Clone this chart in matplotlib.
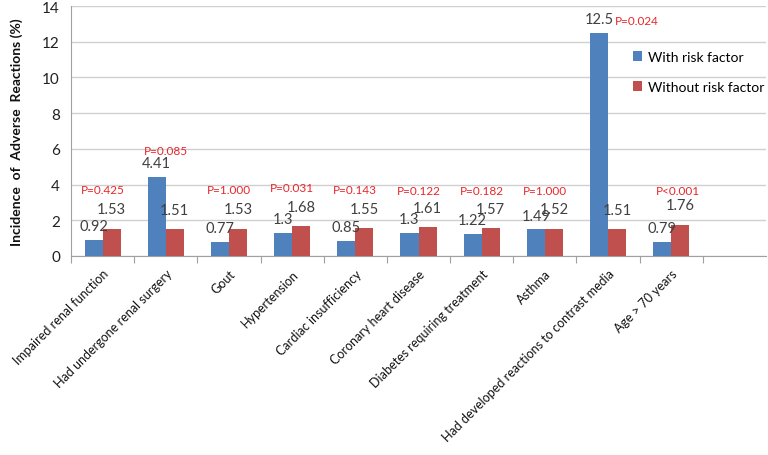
import matplotlib
matplotlib.use("Agg")
import matplotlib.pyplot as plt
import numpy as np

categories = ["Impaired renal function", "Had undergone renal surgery", "Gout",
              "Hypertension", "Cardiac insufficiency", "Coronary heart disease",
              "Diabetes requiring treatment", "Asthma",
              "Had developed reactions to contrast media", "Age > 70 years"]
with_risk = [0.92, 4.41, 0.77, 1.3, 0.85, 1.3, 1.22, 1.49, 12.5, 0.79]
without_risk = [1.53, 1.51, 1.53, 1.68, 1.55, 1.61, 1.57, 1.52, 1.51, 1.76]
with_labels = ["0.92", "4.41", "0.77", "1.3", "0.85", "1.3", "1.22", "1.49", "12.5", "0.79"]
without_labels = ["1.53", "1.51", "1.53", "1.68", "1.55", "1.61", "1.57", "1.52", "1.51", "1.76"]
p_values = ["P=0.425", "P=0.085", "P=1.000", "P=0.031", "P=0.143", "P=0.122",
            "P=0.182", "P=1.000", "P=0.024", "P<0.001"]
p_heights = [3.7, 5.9, 3.7, 3.85, 3.7, 3.65, 3.65, 3.65, 13.2, 3.65]
p_xshift = [0, 0, 0, 0, 0, 0, 0, 0, 0.45, 0.1]

plt.rcParams['font.family'] = ['Lato', 'DejaVu Sans']

fig = plt.figure(figsize=(7.68, 4.56), dpi=100)
ax = fig.add_axes([71/768, 1-257/456, (766-71)/768, (257-7)/456])

x = np.arange(len(categories))
w = 0.285
blue = "#4F81BD"
red = "#C0504D"
b1 = ax.bar(x - w/2, with_risk, w, color=blue, label="With risk factor", zorder=3)
b2 = ax.bar(x + w/2, without_risk, w, color=red, label="Without risk factor", zorder=3)

for rect, lab in zip(b1, with_labels):
    ax.annotate(lab, (rect.get_x() + rect.get_width()/2, rect.get_height()),
                xytext=(0, 10), textcoords="offset points", ha="center", va="center",
                fontsize=10.5, color="#404040", zorder=4)
for rect, lab in zip(b2, without_labels):
    ax.annotate(lab, (rect.get_x() + rect.get_width()/2, rect.get_height()),
                xytext=(0, 14), textcoords="offset points", ha="center", va="center",
                fontsize=10.5, color="#404040", zorder=4)
for xi, p, h, s in zip(x, p_values, p_heights, p_xshift):
    ax.text(xi + s, h, p, ha="center", va="center", fontsize=8.5, color="#E8262A", zorder=4)

ax.set_xlim(-0.5, len(categories) + 0.5)
ax.set_ylim(0, 14)
ax.set_yticks(np.arange(0, 15, 2))
ax.yaxis.grid(True, color="#D0D0D0", linewidth=1, zorder=0)
ax.set_axisbelow(True)
for s in ["top", "right"]:
    ax.spines[s].set_visible(False)
for s in ["left", "bottom"]:
    ax.spines[s].set_color("#A0A0A0")
ax.tick_params(axis="y", length=0, labelsize=11, colors="#222222", pad=8)
ax.set_xticks(np.arange(-0.5, len(categories) + 0.5, 1.0), minor=False)
ax.set_xticklabels([])
ax.tick_params(axis="x", which="major", length=5, color="#A0A0A0", direction="out")
ax.set_xticks(x, minor=True)
ax.set_xticklabels(categories, minor=True, rotation=45, ha="right",
                   rotation_mode="anchor", fontsize=9, color="#111111")
ax.tick_params(axis="x", which="minor", length=0, pad=8)

ax.set_ylabel("Incidence  of  Adverse  Reactions (%)", fontsize=10, fontweight="bold",
              color="#111111", labelpad=14)

leg = ax.legend(loc="upper left", bbox_to_anchor=(0.79, 0.87), frameon=False,
                fontsize=10, handlelength=0.7, handleheight=0.7, labelspacing=1.3,
                handletextpad=0.4)

fig.savefig("out.png", dpi=100)
